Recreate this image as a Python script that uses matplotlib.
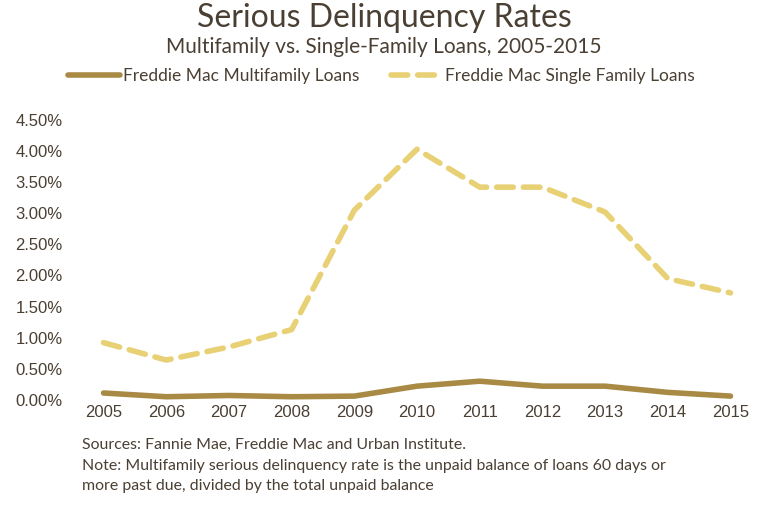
import matplotlib
matplotlib.use('Agg')
from matplotlib import pyplot as plt
from matplotlib.ticker import FuncFormatter
import numpy as np

years = [2005, 2006, 2007, 2008, 2009, 2010, 2011, 2012, 2013, 2014, 2015]
multifamily = [0.11, 0.05, 0.07, 0.05, 0.06, 0.22, 0.30, 0.22, 0.22, 0.12, 0.06]
single_family = [0.92, 0.64, 0.85, 1.13, 3.05, 4.03, 3.42, 3.42, 3.02, 1.95, 1.72]
yticks = [0, 0.5, 1.0, 1.5, 2.0, 2.5, 3.0, 3.5, 4.0, 4.5]

text_color = '#4a3f33'
mf_color = '#a88a45'
sf_color = '#e8d074'
narrow = ['Lato', 'DejaVu Sans']

fig = plt.figure(figsize=(7.68, 5.31), dpi=100)
ax = fig.add_axes([0.094, 0.247, 0.898, 0.527])

ax.plot(years, multifamily, color=mf_color, lw=4, solid_capstyle='round',
        label='Freddie Mac Multifamily Loans', clip_on=False)
ax.plot(years, single_family, color=sf_color, lw=4, dashes=(3, 1.8),
        dash_capstyle='round', label='Freddie Mac Single Family Loans', clip_on=False)

ax.set_xlim(2004.5, 2015.5)
ax.set_ylim(0, 4.5)
ax.set_xticks(years)
ax.set_yticks(yticks)
ax.yaxis.set_major_formatter(FuncFormatter(lambda v, p: f'{v:.2f}%'))
for s in ax.spines.values():
    s.set_visible(False)
ax.tick_params(length=0, labelsize=12, colors=text_color)
ax.tick_params(axis='x', pad=4)
ax.tick_params(axis='y', pad=7)
for lab in ax.get_xticklabels() + ax.get_yticklabels():
    lab.set_family(['Liberation Sans', 'DejaVu Sans'])

fig.text(0.5, 0.967, 'Serious Delinquency Rates', ha='center', va='center',
         fontsize=23, color=text_color, family=narrow)
fig.text(0.5, 0.911, 'Multifamily vs. Single-Family Loans, 2005-2015', ha='center',
         va='center', fontsize=15, color=text_color, family=narrow)

leg = fig.legend(loc='center', bbox_to_anchor=(0.497, 0.857), ncol=2, frameon=False,
                 handlelength=3, handletextpad=0.15, columnspacing=1.8,
                 prop={'family': narrow, 'size': 12.5})
for t in leg.get_texts():
    t.set_color(text_color)

fig.text(0.107, 0.162, 'Sources: Fannie Mae, Freddie Mac and Urban Institute.',
         fontsize=11.4, color=text_color, family=narrow, va='center')
fig.text(0.107, 0.123, 'Note: Multifamily serious delinquency rate is the unpaid balance of loans 60 days or',
         fontsize=11.4, color=text_color, family=narrow, va='center')
fig.text(0.107, 0.084, 'more past due, divided by the total unpaid balance',
         fontsize=11.4, color=text_color, family=narrow, va='center')

plt.savefig('out.png', dpi=100)
